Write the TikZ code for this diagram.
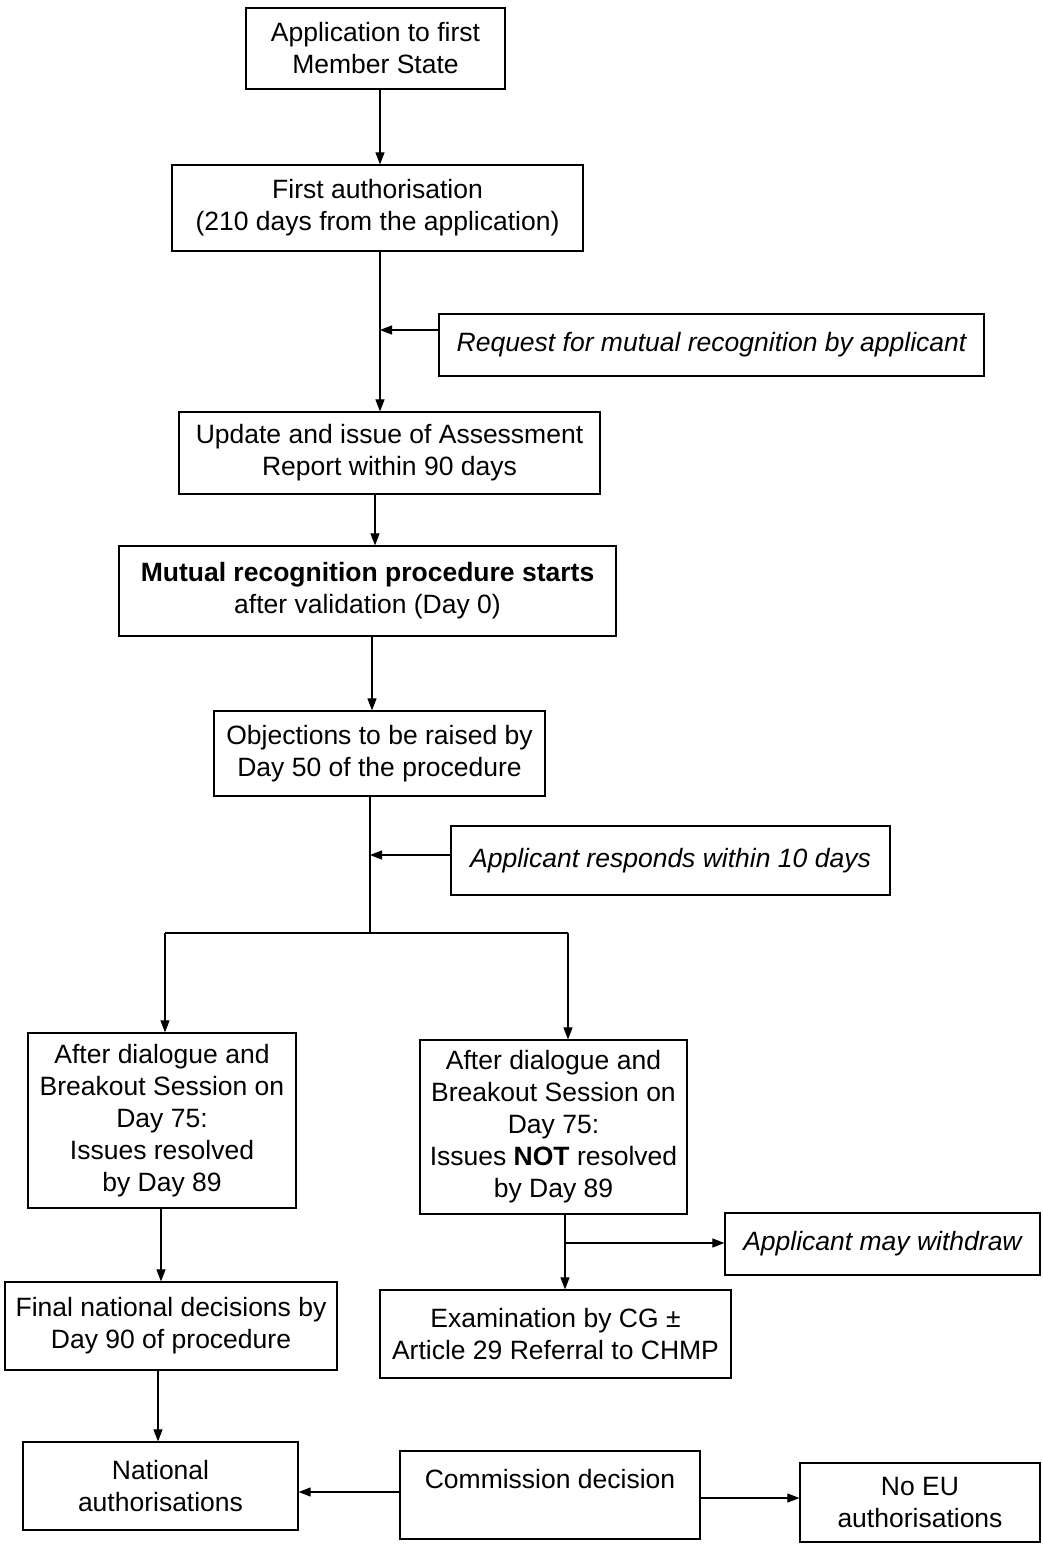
\documentclass[tikz,border=0pt]{standalone}
\usepackage{fontspec}
\setmainfont{Liberation Sans}
\usetikzlibrary{arrows.meta}
\begin{document}
\begin{tikzpicture}[x=1pt,y=-1pt,
  box/.style={draw, line width=1.2pt, inner sep=1pt, align=center,
    font=\fontsize{26.5}{32}\selectfont},
  ibox/.style={box, font=\fontsize{26.5}{32}\selectfont\itshape},
  arr/.style={line width=1.1pt, -{Triangle[length=12pt,width=9pt]}},
  ln/.style={line width=1.1pt}]
\useasboundingbox (0,0) rectangle (1043,1548);
\node[box, minimum width=259, minimum height=81] (app) at (375.5,48.5) {Application to first\\Member State};
\node[box, minimum width=411, minimum height=86] (first) at (377.5,208) {First authorisation\\(210 days from the application)};
\node[ibox, minimum width=545, minimum height=62] (req) at (711.5,345) {Request for mutual recognition by applicant};
\node[box, minimum width=421, minimum height=82] (upd) at (389.5,453) {Update and issue of Assessment\\Report within 90 days};
\node[box, minimum width=497, minimum height=90] (mrp) at (367.5,591) {\textbf{Mutual recognition procedure starts}\\after validation (Day 0)};
\node[box, minimum width=331, minimum height=85] (obj) at (379.5,753.5) {Objections to be raised by\\Day 50 of the procedure};
\node[ibox, minimum width=439, minimum height=69] (resp) at (670.5,860.5) {Applicant responds within 10 days};
\node[box, minimum width=268, minimum height=175] (left) at (162,1120.5) {After dialogue and\\Breakout Session on\\Day 75:\\Issues resolved\\by Day 89};
\node[box, minimum width=267, minimum height=174] (right) at (553.5,1127) {After dialogue and\\Breakout Session on\\Day 75:\\Issues \textbf{NOT} resolved\\by Day 89};
\node[ibox, minimum width=315, minimum height=62] (wd) at (882.5,1244) {Applicant may withdraw};
\node[box, minimum width=332, minimum height=88] (fin) at (171,1326) {Final national decisions by\\Day 90 of procedure};
\node[box, minimum width=351, minimum height=88] (exam) at (555.5,1334) {Examination by CG ±\\Article 29 Referral to CHMP};
\node[box, minimum width=275, minimum height=88] (nat) at (160.5,1486) {National\\authorisations};
\node[box, minimum width=300, minimum height=88] (com) at (550,1495) {Commission decision\\\mbox{}};
\node[box, minimum width=240, minimum height=79] (noeu) at (920,1502.5) {No EU\\authorisations};

\coordinate (x380) at (380,0);
\coordinate (x375) at (375,0);
\coordinate (x372) at (372,0);
\coordinate (x370) at (370,0);
\coordinate (x165) at (165,0);
\coordinate (x568) at (568,0);
\coordinate (x161) at (161,0);
\coordinate (x565) at (565,0);
\coordinate (x158) at (158,0);
\coordinate (ya) at (0,330);
\coordinate (yb) at (0,855);
\coordinate (yc) at (0,933);
\coordinate (yd) at (0,1243);
\coordinate (ye) at (0,1492);
\coordinate (yf) at (0,1498);

\draw[arr] (app.south -| x380) -- (first.north -| x380);
\draw[arr] (first.south -| x380) -- (upd.north -| x380);
\draw[arr] (req.west |- ya) -- (x380 |- ya);
\draw[arr] (upd.south -| x375) -- (mrp.north -| x375);
\draw[arr] (mrp.south -| x372) -- (obj.north -| x372);
\draw[ln] (obj.south -| x370) -- (x370 |- yc);
\draw[arr] (resp.west |- yb) -- (x370 |- yb);
\draw[ln] (x165 |- yc) -- (x568 |- yc);
\draw[arr] (x165 |- yc) -- (left.north -| x165);
\draw[arr] (x568 |- yc) -- (right.north -| x568);
\draw[arr] (left.south -| x161) -- (fin.north -| x161);
\draw[arr] (right.south -| x565) -- (exam.north -| x565);
\draw[arr] (x565 |- yd) -- (wd.west |- yd);
\draw[arr] (fin.south -| x158) -- (nat.north -| x158);
\draw[arr] (com.west |- ye) -- (nat.east |- ye);
\draw[arr] (com.east |- yf) -- (noeu.west |- yf);
\end{tikzpicture}
\end{document}
